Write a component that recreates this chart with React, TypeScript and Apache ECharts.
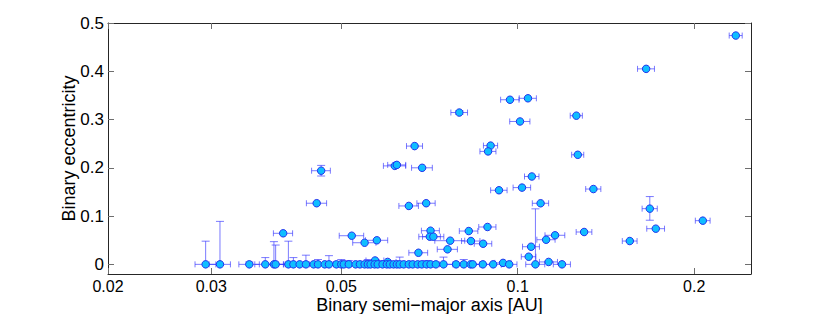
import React, { useEffect, useRef } from "react";
import * as echarts from "echarts";

// Axis ranges and tick labels
const xRange = [0.02, 0.25];
const yRange = [-0.02, 0.5];
const xTickValues = [0.02, 0.03, 0.05, 0.1, 0.2];
const yTickValues = [0, 0.1, 0.2, 0.3, 0.4, 0.5];

// [semi-major axis a (AU), eccentricity e, error in a, e error up, e error down]
const eccentricBinaries = [
  [0.2355, 0.474, 0.006, 0, 0],
  [0.1656, 0.405, 0.0055, 0, 0],
  [0.097, 0.341, 0.0035, 0, 0],
  [0.1041, 0.344, 0.0035, 0, 0],
  [0.0795, 0.3145, 0.0026, 0.004, 0.004],
  [0.1259, 0.308, 0.003, 0, 0],
  [0.1009, 0.296, 0.004, 0, 0],
  [0.0667, 0.245, 0.0021, 0, 0],
  [0.0899, 0.246, 0.0025, 0, 0],
  [0.089, 0.234, 0.0028, 0, 0],
  [0.1266, 0.227, 0.003, 0, 0],
  [0.0617, 0.204, 0.0027, 0, 0],
  [0.0622, 0.206, 0.0022, 0, 0],
  [0.0687, 0.2, 0.0028, 0, 0],
  [0.1057, 0.182, 0.003, 0, 0],
  [0.1017, 0.159, 0.0035, 0, 0],
  [0.0929, 0.1535, 0.003, 0, 0],
  [0.1346, 0.156, 0.004, 0, 0],
  [0.1094, 0.1265, 0.0035, 0, 0],
  [0.0652, 0.121, 0.0025, 0, 0],
  [0.0698, 0.1266, 0.0025, 0, 0],
  [0.168, 0.1154, 0.005, 0.025, 0.024],
  [0.2069, 0.0905, 0.006, 0, 0],
  [0.172, 0.0739, 0.006, 0, 0],
  [0.1298, 0.067, 0.004, 0, 0],
  [0.1158, 0.0602, 0.0045, 0, 0],
  [0.1118, 0.051, 0.004, 0, 0],
  [0.1553, 0.0483, 0.0045, 0, 0],
  [0.1054, 0.0365, 0.0035, 0, 0],
  [0.1044, 0.0158, 0.003, 0, 0],
  [0.071, 0.0697, 0.0025, 0, 0],
  [0.0708, 0.0573, 0.003, 0, 0],
  [0.0718, 0.0573, 0.003, 0, 0],
  [0.0767, 0.049, 0.0045, 0, 0],
  [0.0832, 0.0483, 0.003, 0, 0],
  [0.0873, 0.0427, 0.003, 0, 0],
  [0.0888, 0.0774, 0.003, 0, 0],
  [0.0825, 0.069, 0.003, 0, 0],
  [0.0759, 0.0311, 0.003, 0, 0],
  [0.0677, 0.024, 0.0025, 0, 0],
  [0.0398, 0.0643, 0.0015, 0, 0],
  [0.0462, 0.194, 0.0017, 0.011, 0.011],
  [0.0454, 0.1266, 0.0018, 0, 0],
  [0.0521, 0.0593, 0.0025, 0, 0],
  [0.0548, 0.0448, 0.0025, 0, 0],
  [0.0575, 0.0498, 0.0025, 0, 0],
  [0.0571, 0.008, 0.002, 0, 0],
  [0.06, 0.005, 0.002, 0, 0],
  [0.0944, 0.003, 0.003, 0, 0],
  [0.1129, 0.005, 0.004, 0, 0],
];

// [a (AU), e, error in a, e upper limit error]
const circularBinaries = [
  [0.02935, 0, 0.0012, 0.048],
  [0.03105, 0, 0.0013, 0.089],
  [0.03484, 0, 0.0014, 0.005],
  [0.0371, 0, 0.0015, 0.014],
  [0.03838, 0, 0.0015, 0.047],
  [0.03864, 0, 0.0015, 0.04],
  [0.04062, 0, 0.0016, 0.048],
  [0.04143, 0, 0.0016, 0.014],
  [0.04246, 0, 0.0017, 0],
  [0.04352, 0, 0.0017, 0.019],
  [0.04486, 0, 0.0018, 0],
  [0.04563, 0, 0.0018, 0.01],
  [0.04685, 0, 0.0018, 0],
  [0.04764, 0, 0.0019, 0.018],
  [0.04905, 0, 0.0019, 0.005],
  [0.05, 0, 0.002, 0.01],
  [0.0505, 0, 0.002, 0],
  [0.0515, 0, 0.002, 0.008],
  [0.0529, 0, 0.002, 0],
  [0.0538, 0, 0.002, 0.006],
  [0.0548, 0, 0.002, 0],
  [0.0555, 0, 0.002, 0.01],
  [0.0561, 0, 0.002, 0],
  [0.057, 0, 0.002, 0.006],
  [0.0577, 0, 0.002, 0],
  [0.0588, 0, 0.002, 0.005],
  [0.0598, 0, 0.002, 0],
  [0.0605, 0, 0.002, 0],
  [0.0614, 0, 0.002, 0.005],
  [0.0622, 0, 0.002, 0],
  [0.0629, 0, 0.002, 0.015],
  [0.0639, 0, 0.002, 0],
  [0.0652, 0, 0.0025, 0],
  [0.0662, 0, 0.0025, 0.005],
  [0.0675, 0, 0.0025, 0],
  [0.0686, 0, 0.0025, 0],
  [0.0699, 0, 0.0025, 0.008],
  [0.071, 0, 0.0025, 0],
  [0.0725, 0, 0.0025, 0],
  [0.0747, 0, 0.0028, 0.015],
  [0.0785, 0, 0.003, 0],
  [0.0809, 0, 0.003, 0.01],
  [0.0831, 0, 0.003, 0],
  [0.0838, 0, 0.003, 0],
  [0.0872, 0, 0.003, 0],
  [0.0908, 0, 0.003, 0],
  [0.0967, 0, 0.003, 0],
  [0.1072, 0, 0.004, 0.115],
  [0.119, 0, 0.004, 0],
];

const FONT = "'Liberation Sans', Arial, Helvetica, sans-serif";
const ERR_COLOR = "rgba(50, 50, 255, 0.65)";
const FILL = "#0fbeff";
const EDGE = "#2233ee";

const lg = (v: number) => Math.log10(v);

export default function App() {
  const ref = useRef<HTMLDivElement>(null);

  useEffect(() => {
    if (!ref.current) return;
    const chart = echarts.init(ref.current, null, { renderer: "svg" });

    const allRows = [
      ...eccentricBinaries.map((r) => ({ a: r[0], e: r[1], da: r[2], up: r[3], dn: r[4] })),
      ...circularBinaries.map((r) => ({ a: r[0], e: r[1], da: r[2], up: r[3], dn: 0 })),
    ];

    const errData = allRows.map((p) => [
      lg(p.a),
      p.e,
      lg(p.a - p.da),
      lg(p.a + p.da),
      p.e - p.dn,
      p.e + p.up,
    ]);
    const ptData = allRows.map((p) => [lg(p.a), p.e]);

    const xFmt = (v: number) => String(Number(Math.pow(10, v).toPrecision(3)));
    const yFmt = (v: number) => (Math.abs(v) < 1e-9 ? "0" : v.toFixed(1));

    const axisLineStyle = { color: "#262626", width: 1 };
    const tickLineStyle = { color: "#6e6e6e", width: 1 };

    const xCommon = {
      type: "value",
      min: lg(xRange[0]),
      max: lg(xRange[1]),
      splitLine: { show: false },
      axisLine: { show: true, onZero: false, lineStyle: axisLineStyle },
    };
    const yCommon = {
      type: "value",
      min: yRange[0],
      max: yRange[1],
      splitLine: { show: false },
      axisLine: { show: true, onZero: false, lineStyle: axisLineStyle },
    };

    const option: any = {
      animation: false,
      grid: {
        left: 108,
        right: 79,
        top: 23,
        bottom: 40,
        containLabel: false,
        outerBoundsMode: "none",
      },
      xAxis: [
        {
          ...xCommon,
          position: "bottom",
          axisTick: {
            show: true,
            inside: true,
            length: 6,
            customValues: xTickValues.map(lg),
            lineStyle: tickLineStyle,
          },
          axisLabel: {
            show: true,
            customValues: xTickValues.map(lg),
            formatter: xFmt,
            fontSize: 16,
            fontFamily: FONT,
            color: "#000",
            margin: 4,
          },
          name: "Binary semi\u2212major axis [AU]",
          nameLocation: "middle",
          nameGap: 22,
          nameMoveOverlap: false,
          nameTextStyle: { fontSize: 18, fontFamily: FONT, color: "#000" },
        },
        {
          ...xCommon,
          position: "top",
          axisTick: {
            show: true,
            inside: true,
            length: 6,
            customValues: xTickValues.map(lg),
            lineStyle: tickLineStyle,
          },
          axisLabel: { show: false },
        },
      ],
      yAxis: [
        {
          ...yCommon,
          position: "left",
          axisTick: {
            show: true,
            inside: true,
            length: 6,
            customValues: yTickValues,
            lineStyle: tickLineStyle,
          },
          axisLabel: {
            show: true,
            customValues: yTickValues,
            formatter: yFmt,
            fontSize: 17,
            fontFamily: FONT,
            color: "#000",
            margin: 4,
          },
          name: "Binary eccentricity",
          nameLocation: "middle",
          nameGap: 30,
          nameMoveOverlap: false,
          nameTextStyle: { fontSize: 18, fontFamily: FONT, color: "#000" },
        },
        {
          ...yCommon,
          position: "right",
          axisTick: {
            show: true,
            inside: true,
            length: 6,
            customValues: yTickValues,
            lineStyle: tickLineStyle,
          },
          axisLabel: { show: false },
        },
      ],
      series: [
        {
          type: "custom",
          xAxisIndex: 0,
          yAxisIndex: 0,
          data: errData,
          z: 1,
          silent: true,
          renderItem: (_params: any, api: any) => {
            const x = api.value(0);
            const y = api.value(1);
            const xl = api.value(2);
            const xh = api.value(3);
            const yl = api.value(4);
            const yh = api.value(5);
            const c = api.coord([x, y]);
            const l = api.coord([xl, y]);
            const r = api.coord([xh, y]);
            const style = { stroke: ERR_COLOR, lineWidth: 1, fill: "none" };
            const hc = 3;
            const vc = 4;
            const children: any[] = [
              { type: "line", shape: { x1: l[0], y1: c[1], x2: r[0], y2: c[1] }, style },
              { type: "line", shape: { x1: l[0], y1: c[1] - hc, x2: l[0], y2: c[1] + hc }, style },
              { type: "line", shape: { x1: r[0], y1: c[1] - hc, x2: r[0], y2: c[1] + hc }, style },
            ];
            if (yh > y) {
              const t = api.coord([x, yh]);
              children.push({ type: "line", shape: { x1: c[0], y1: c[1], x2: c[0], y2: t[1] }, style });
              children.push({ type: "line", shape: { x1: c[0] - vc, y1: t[1], x2: c[0] + vc, y2: t[1] }, style });
            }
            if (yl < y) {
              const b = api.coord([x, yl]);
              children.push({ type: "line", shape: { x1: c[0], y1: c[1], x2: c[0], y2: b[1] }, style });
              children.push({ type: "line", shape: { x1: c[0] - vc, y1: b[1], x2: c[0] + vc, y2: b[1] }, style });
            }
            return { type: "group", children };
          },
        },
        {
          type: "scatter",
          xAxisIndex: 0,
          yAxisIndex: 0,
          data: ptData,
          z: 2,
          symbol: "circle",
          symbolSize: 7.5,
          itemStyle: { color: FILL, borderColor: EDGE, borderWidth: 1, opacity: 1 },
        },
      ],
    };

    chart.setOption(option);
    return () => chart.dispose();
  }, []);

  return (
    <div
      ref={ref}
      style={{ position: "absolute", left: 0, top: 0, width: 830, height: 314, background: "#fff" }}
    />
  );
}
